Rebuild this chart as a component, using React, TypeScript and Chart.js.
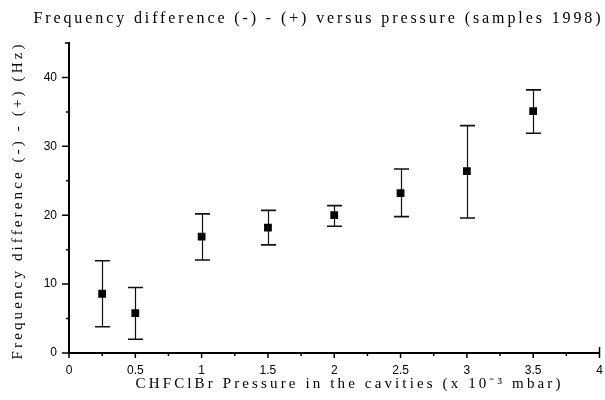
import React, { useEffect, useRef } from "react";
import { Chart, registerables } from "chart.js";

Chart.register(...registerables);

// ---- data ----
const pressure = [0.25, 0.5, 1, 1.5, 2, 2.5, 3, 3.5];
const freqDiff = [8.6, 5.8, 16.9, 18.2, 20.0, 23.2, 26.4, 35.1];
const errLow = [3.8, 2.0, 13.5, 15.7, 18.4, 19.8, 19.6, 31.9];
const errHigh = [13.4, 9.5, 20.2, 20.7, 21.4, 26.7, 33.0, 38.2];

const xMajorTicks = [0, 0.5, 1, 1.5, 2, 2.5, 3, 3.5, 4];
const xMinorTicks = [0.25, 0.75, 1.25, 1.75, 2.25, 2.75, 3.25, 3.75];
const yMajorTicks = [0, 10, 20, 30, 40];
const yMinorTicks = [5, 15, 25, 35];

const titleText = "Frequency difference (-) - (+) versus pressure (samples 1998)";
const xTitleText = "CHFClBr Pressure in the cavities (x 10\u207B\u00B3 mbar)";
const yTitleText = "Frequency difference (-) - (+) (Hz)";

function drawSpaced(ctx: CanvasRenderingContext2D, text: string, cx: number, cy: number, target: number, font: string) {
  ctx.font = font;
  (ctx as any).letterSpacing = "0px";
  const w = ctx.measureText(text).width;
  const ls = (target - w) / text.length;
  (ctx as any).letterSpacing = ls + "px";
  ctx.textAlign = "center";
  ctx.textBaseline = "middle";
  ctx.fillText(text, cx + ls / 2, cy);
  (ctx as any).letterSpacing = "0px";
}

const errorBarPlugin = {
  id: "errorBars",
  beforeDatasetsDraw(chart: any) {
    const ctx = chart.ctx as CanvasRenderingContext2D;
    const xs = chart.scales.x;
    const ys = chart.scales.y;
    ctx.save();
    ctx.strokeStyle = "#111";
    for (let i = 0; i < pressure.length; i++) {
      const x = Math.round(xs.getPixelForValue(pressure[i])) + 0.5;
      const yl = ys.getPixelForValue(errLow[i]);
      const yh = ys.getPixelForValue(errHigh[i]);
      ctx.lineWidth = 1.2;
      ctx.beginPath();
      ctx.moveTo(x, yl);
      ctx.lineTo(x, yh);
      ctx.stroke();
      ctx.lineWidth = 1.6;
      ctx.beginPath();
      ctx.moveTo(x - 7.5, yl);
      ctx.lineTo(x + 7.5, yl);
      ctx.moveTo(x - 7.5, yh);
      ctx.lineTo(x + 7.5, yh);
      ctx.stroke();
    }
    ctx.restore();
  },
};

const axesPlugin = {
  id: "axesDecor",
  afterDraw(chart: any) {
    const ctx = chart.ctx as CanvasRenderingContext2D;
    const xs = chart.scales.x;
    const ys = chart.scales.y;
    const ca = chart.chartArea;
    ctx.save();
    ctx.strokeStyle = "#000";
    ctx.lineWidth = 1.5;
    ctx.beginPath();
    for (const v of yMajorTicks) {
      const y = ys.getPixelForValue(v);
      ctx.moveTo(ca.left - 7, y);
      ctx.lineTo(ca.left, y);
    }
    for (const v of yMinorTicks) {
      const y = ys.getPixelForValue(v);
      ctx.moveTo(ca.left - 3, y);
      ctx.lineTo(ca.left, y);
    }
    // top bracket
    ctx.moveTo(ca.left - 4, ca.top);
    ctx.lineTo(ca.left, ca.top);
    for (const v of xMajorTicks) {
      const x = xs.getPixelForValue(v);
      ctx.moveTo(x, ca.bottom);
      ctx.lineTo(x, ca.bottom + 5);
    }
    for (const v of xMinorTicks) {
      const x = xs.getPixelForValue(v);
      ctx.moveTo(x, ca.bottom);
      ctx.lineTo(x, ca.bottom + 3);
    }
    // right bracket
    ctx.moveTo(ca.right, ca.bottom);
    ctx.lineTo(ca.right, ca.bottom - 6);
    ctx.stroke();

    ctx.fillStyle = "#000";
    drawSpaced(ctx, titleText, 317, 19, 570, "16px 'Liberation Serif'");
    drawSpaced(ctx, xTitleText, 348, 384, 428, "15px 'Liberation Serif'");
    ctx.save();
    ctx.translate(18, 202);
    ctx.rotate(-Math.PI / 2);
    drawSpaced(ctx, yTitleText, 0, 0, 318, "15px 'Liberation Serif'");
    ctx.restore();
    ctx.restore();
  },
};

export default function App() {
  const ref = useRef<HTMLCanvasElement | null>(null);
  useEffect(() => {
    if (!ref.current) return;
    const chart = new Chart(ref.current, {
      type: "scatter",
      data: {
        datasets: [
          {
            data: pressure.map((p, i) => ({ x: p, y: freqDiff[i] })),
            backgroundColor: "#000",
            borderColor: "#000",
            pointStyle: "rect",
            pointRadius: 5.5,
            pointHoverRadius: 5.5,
            borderWidth: 0,
          },
        ],
      },
      options: {
        animation: false,
        responsive: false,
        events: [],
        layout: { padding: { top: 43, right: 4, bottom: 0, left: 0 } },
        plugins: { legend: { display: false }, title: { display: false }, tooltip: { enabled: false } },
        scales: {
          x: {
            type: "linear",
            min: 0,
            max: 4,
            afterBuildTicks: (s: any) => {
              s.ticks = xMajorTicks.map((v) => ({ value: v }));
            },
            afterFit: (s: any) => {
              s.height = 47;
              s.paddingLeft = 0;
              s.paddingRight = 0;
            },
            grid: { display: false, drawTicks: false },
            border: { display: true, color: "#000", width: 2 },
            ticks: {
              color: "#000",
              padding: 10,
              maxRotation: 0,
              autoSkip: false,
              font: { family: "'Liberation Sans'", size: 12 },
              callback: (v: any) => String(v),
            },
          },
          y: {
            type: "linear",
            min: 0,
            max: 45,
            afterBuildTicks: (s: any) => {
              s.ticks = yMajorTicks.map((v) => ({ value: v }));
            },
            afterFit: (s: any) => {
              s.width = 69;
              s.paddingTop = 0;
              s.paddingBottom = 0;
            },
            grid: { display: false, drawTicks: false },
            border: { display: true, color: "#000", width: 2 },
            ticks: {
              color: "#000",
              padding: 12,
              autoSkip: false,
              font: { family: "'Liberation Sans'", size: 12 },
              callback: (v: any) => String(v),
            },
          },
        },
      },
      plugins: [errorBarPlugin, axesPlugin],
    });
    return () => chart.destroy();
  }, []);
  return (
    <div style={{ position: "absolute", left: 0, top: 0, width: 605, height: 400, background: "#fff" }}>
      <canvas ref={ref} width={605} height={400} style={{ display: "block" }} />
    </div>
  );
}
